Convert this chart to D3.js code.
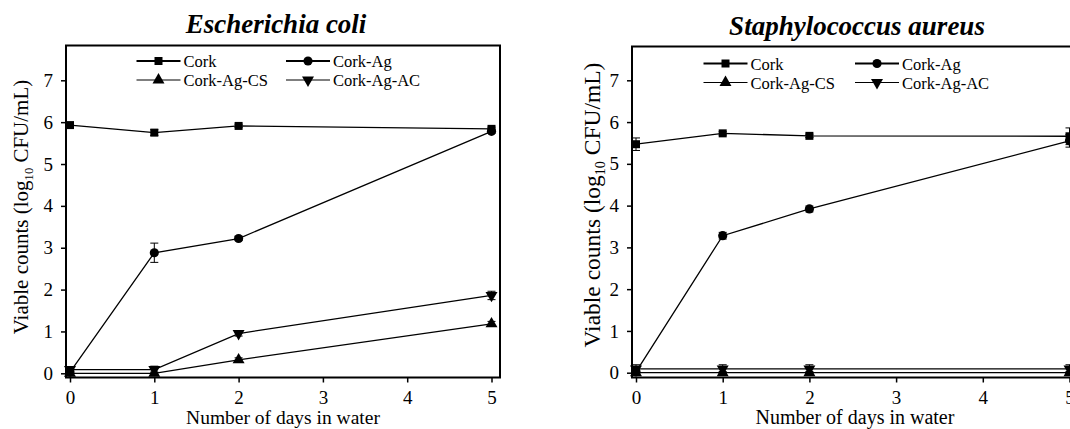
<!DOCTYPE html>
<html>
<head>
<meta charset="utf-8">
<script src="https://cdn.jsdelivr.net/npm/d3@7"></script>
<style>
  body { margin: 0; background: #fff; }
  svg { display: block; font-family: "Liberation Serif", "Times New Roman", serif; }
</style>
</head>
<body>
<div id="plot"></div>
<script>
// data
var days = [0, 1, 2, 5];
var xTicks = [0, 1, 2, 3, 4, 5];
var yTicks = [0, 1, 2, 3, 4, 5, 6, 7];
var seriesNames = ["Cork", "Cork-Ag", "Cork-Ag-CS", "Cork-Ag-AC"];

// Escherichia coli
var ecCork = [5.93, 5.75, 5.91, 5.84];
var ecCorkErr = [0.05, 0.07, 0.04, 0.04];
var ecAg = [0.03, 2.88, 3.22, 5.78];
var ecAgErr = [0.05, 0.23, 0.05, 0.05];
var ecCS = [0, 0, 0.32, 1.18];
var ecCSErr = [0.03, 0.03, 0.05, 0.06];
var ecAC = [0.09, 0.09, 0.95, 1.86];
var ecACErr = [0.05, 0.08, 0.06, 0.1];

// Staphylococcus aureus
var saCork = [5.47, 5.73, 5.67, 5.66];
var saCorkErr = [0.15, 0.04, 0.04, 0.2];
var saAg = [0.02, 3.28, 3.92, 5.55];
var saAgErr = [0.05, 0.08, 0.07, 0.15];
var saCS = [0, 0, 0, 0];
var saCSErr = [0.03, 0.03, 0.03, 0.03];
var saAC = [0.09, 0.09, 0.09, 0.09];
var saACErr = [0.1, 0.1, 0.1, 0.1];

var W = 1070, H = 429;
var svg = d3.select("#plot").append("svg")
    .attr("width", W)
    .attr("height", H);

var symbols = [
  {type: d3.symbolSquare, size: 64, rot: 0},
  {type: d3.symbolCircle, size: 66, rot: 0},
  {type: d3.symbolTriangle, size: 62, rot: 0},
  {type: d3.symbolTriangle, size: 62, rot: 180}
];

function drawPanel(p) {
  var g = svg.append("g");

  var x = d3.scaleLinear().domain([0, 5]).range([p.x0, p.x5]);
  var y = d3.scaleLinear().domain([0, 7]).range([p.y0, p.y7]);

  // frame
  g.append("rect")
      .attr("x", p.left)
      .attr("y", p.top)
      .attr("width", p.right - p.left)
      .attr("height", p.bottom - p.top)
      .attr("fill", "none")
      .attr("stroke", "#000")
      .attr("stroke-width", 2);

  // axes
  var xa = g.append("g")
      .attr("transform", "translate(0," + p.bottom + ")")
      .call(d3.axisBottom(x).tickValues(xTicks).tickFormat(d3.format("d"))
        .tickSize(5).tickSizeOuter(0).tickPadding(8));
  var ya = g.append("g")
      .attr("transform", "translate(" + p.left + ",0)")
      .call(d3.axisLeft(y).tickValues(yTicks).tickFormat(d3.format("d"))
        .tickSize(5).tickSizeOuter(0).tickPadding(8));
  [xa, ya].forEach(function(a) {
    a.select(".domain").remove();
    a.selectAll("line").attr("stroke-width", 1.5);
    a.selectAll("text")
        .attr("font-family", "Liberation Serif")
        .attr("font-size", p.tickFont)
        .attr("fill", "#000");
  });

  // axis titles
  g.append("text")
      .attr("x", (p.left + p.right0) / 2)
      .attr("y", p.xLabelY)
      .attr("text-anchor", "middle")
      .attr("font-size", p.xLabelFont)
      .text("Number of days in water");

  var yl = g.append("text")
      .attr("transform", "translate(" + p.yLabelX + "," + p.yLabelMid + ") rotate(-90)")
      .attr("text-anchor", "middle")
      .attr("font-size", p.yLabelFont);
  yl.append("tspan").text("Viable counts (log");
  yl.append("tspan").attr("font-size", p.yLabelFont * 0.6).attr("dy", 5).text("10");
  yl.append("tspan").attr("dy", -5).text(" CFU/mL)");

  // title
  g.append("text")
      .attr("x", p.titleX)
      .attr("y", p.titleY)
      .attr("text-anchor", "middle")
      .attr("font-size", 27)
      .attr("font-weight", "bold")
      .attr("font-style", "italic")
      .text(p.title);

  var line = d3.line()
      .x(function(d, i) { return x(days[i]); })
      .y(function(d) { return y(d); });

  p.series.forEach(function(s, k) {
    g.append("path")
        .datum(s.values)
        .attr("d", line)
        .attr("fill", "none")
        .attr("stroke", "#000")
        .attr("stroke-width", 1.3);

    // error bars
    var eb = g.append("g").attr("stroke", "#000").attr("stroke-width", 1);
    s.values.forEach(function(v, i) {
      var cx = x(days[i]);
      var e = s.err[i];
      eb.append("line")
          .attr("x1", cx).attr("x2", cx)
          .attr("y1", y(v - e)).attr("y2", y(v + e));
      [v - e, v + e].forEach(function(c) {
        eb.append("line")
            .attr("x1", cx - 4).attr("x2", cx + 4)
            .attr("y1", y(c)).attr("y2", y(c));
      });
    });

    var sym = symbols[k];
    g.selectAll(".m" + k)
        .data(s.values)
        .enter().append("path")
        .attr("class", "m" + k)
        .attr("d", d3.symbol().type(sym.type).size(sym.size))
        .attr("transform", function(d, i) {
          return "translate(" + x(days[i]) + "," + y(d) + ") rotate(" + sym.rot + ")";
        })
        .attr("fill", "#000");
  });

  // legend
  var lg = g.append("g");
  seriesNames.forEach(function(name, k) {
    var col = k % 2, row = Math.floor(k / 2);
    var lx = p.legX[col], ly = p.legY[row];
    lg.append("line")
        .attr("x1", lx).attr("x2", lx + 44)
        .attr("y1", ly).attr("y2", ly)
        .attr("stroke", "#000")
        .attr("stroke-width", row === 0 ? 2 : 1.2);
    var sym = symbols[k];
    lg.append("path")
        .attr("d", d3.symbol().type(sym.type).size(sym.size))
        .attr("transform", "translate(" + (lx + 22) + "," + ly + ") rotate(" + sym.rot + ")")
        .attr("fill", "#000");
    lg.append("text")
        .attr("x", lx + 47)
        .attr("y", ly + 6)
        .attr("font-size", 16.5)
        .text(name);
  });
}

drawPanel({
  title: "Escherichia coli", titleX: 276, titleY: 33,
  x0: 70, x5: 491.5, y0: 373.3, y7: 80.3,
  left: 66, right: 500, right0: 500, top: 45.5, bottom: 377.5,
  tickFont: 19, xLabelFont: 19.5, xLabelY: 424, yLabelFont: 21, yLabelX: 28, yLabelMid: 207,
  legX: [136.5, 286], legY: [61, 80],
  series: [
    {values: ecCork, err: ecCorkErr},
    {values: ecAg, err: ecAgErr},
    {values: ecCS, err: ecCSErr},
    {values: ecAC, err: ecACErr}
  ]
});

drawPanel({
  title: "Staphylococcus aureus", titleX: 857, titleY: 35,
  x0: 636, x5: 1069.5, y0: 372.7, y7: 80.3,
  left: 632, right: 1078, right0: 1078, top: 46.5, bottom: 377.5,
  tickFont: 19, xLabelFont: 20, xLabelY: 424, yLabelFont: 23.5, yLabelX: 600, yLabelMid: 205,
  legX: [703.5, 855], legY: [63.5, 82.5],
  series: [
    {values: saCork, err: saCorkErr},
    {values: saAg, err: saAgErr},
    {values: saCS, err: saCSErr},
    {values: saAC, err: saACErr}
  ]
});
</script>
</body>
</html>
